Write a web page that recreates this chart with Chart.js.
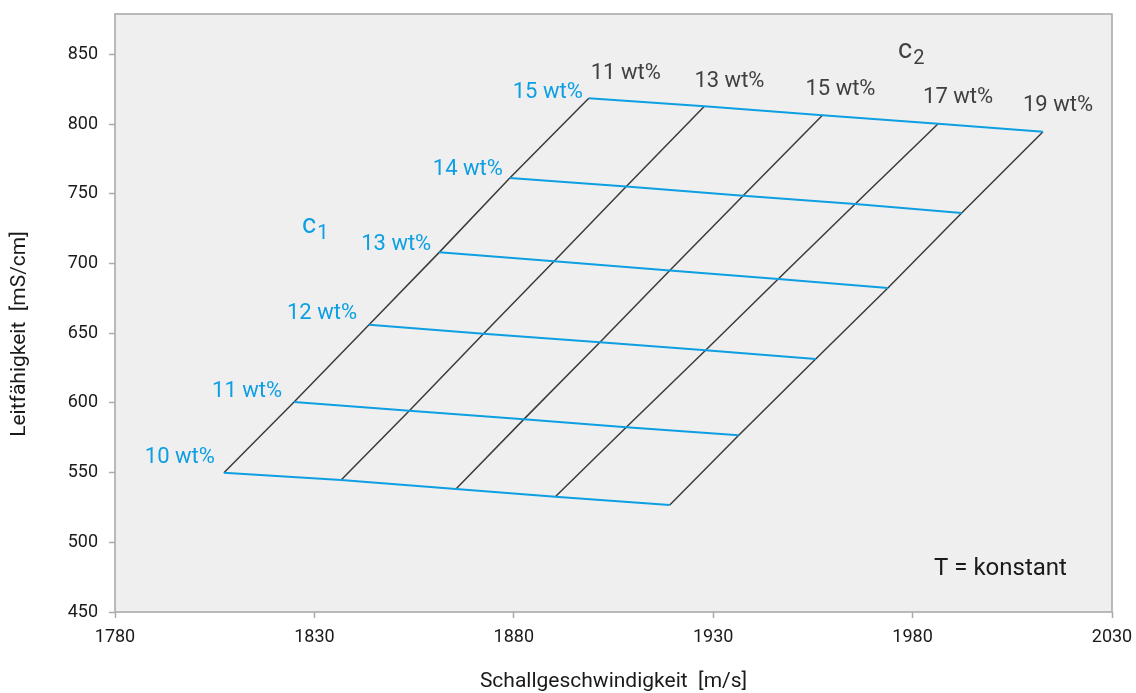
<!DOCTYPE html>
<html>
<head>
<meta charset="utf-8">
<script src="https://cdn.jsdelivr.net/npm/chart.js@4.4.1/dist/chart.umd.min.js"></script>
<style>
  html, body { margin: 0; padding: 0; background: #ffffff; }
  canvas { display: block; }
</style>
</head>
<body>
<canvas id="grid" width="1136" height="693"></canvas>
<script>
// Concentration levels of the two components (wt%)
const c1Levels = [10, 11, 12, 13, 14, 15];
const c2Levels = [11, 13, 15, 17, 19];

// Sound speed [m/s] for each c1 level, one entry per c2 level
const speedC1_10 = [1807.3, 1836.7, 1865.5, 1890.4, 1919.1];
const speedC1_11 = [1824.9, 1853.8, 1882.5, 1908.2, 1936.4];
const speedC1_12 = [1843.7, 1872.4, 1901.6, 1928.1, 1955.7];
const speedC1_13 = [1861.3, 1890.1, 1919.1, 1946.3, 1973.8];
const speedC1_14 = [1879.0, 1908.2, 1937.5, 1965.6, 1992.3];
const speedC1_15 = [1898.8, 1927.8, 1957.4, 1986.4, 2012.7];

// Conductivity [mS/cm] for each c1 level, one entry per c2 level
const condC1_10 = [549.9, 544.7, 538.2, 532.7, 526.8];
const condC1_11 = [600.6, 594.4, 588.2, 582.6, 576.8];
const condC1_12 = [656.1, 649.6, 643.5, 637.8, 631.5];
const condC1_13 = [708.0, 701.6, 695.0, 688.9, 682.4];
const condC1_14 = [761.3, 755.2, 748.6, 742.7, 736.2];
const condC1_15 = [818.5, 812.8, 806.3, 800.3, 794.5];

// Axis ticks
const speedTicks = [1780, 1830, 1880, 1930, 1980, 2030];
const condTicks = [450, 500, 550, 600, 650, 700, 750, 800, 850];

const speedRows = [speedC1_10, speedC1_11, speedC1_12, speedC1_13, speedC1_14, speedC1_15];
const condRows = [condC1_10, condC1_11, condC1_12, condC1_13, condC1_14, condC1_15];

const BLUE = '#0d9fe2';
const DARK = '#3b3b3b';
const TEXT_DARK = '#404040';
const AXIS_GRAY = '#ababab';
const FONT = 'Roboto, "Liberation Sans", sans-serif';

// Lines of constant c1 (blue) and constant c2 (dark)
const c1Sets = c1Levels.map((lvl, i) => ({
  label: 'c1 = ' + lvl + ' wt%',
  data: speedRows[i].map((x, j) => ({ x: x, y: condRows[i][j] })),
  borderColor: BLUE,
  borderWidth: 2,
  showLine: true,
  pointRadius: 0,
  pointHoverRadius: 0,
  order: 0
}));
const c2Sets = c2Levels.map((lvl, j) => ({
  label: 'c2 = ' + lvl + ' wt%',
  data: speedRows.map((row, i) => ({ x: row[j], y: condRows[i][j] })),
  borderColor: DARK,
  borderWidth: 1.5,
  showLine: true,
  pointRadius: 0,
  pointHoverRadius: 0,
  order: 1
}));

// Label offsets (px) relative to the line ends they annotate
const c1LabelShift = [[-9, -15.5], [-12, -10.5], [-12, -11.5], [-8, -7.5], [-7, -8.5], [-6, -5.5]];
const c2LabelShift = [[37, -24.5], [25, -24.5], [18, -25.5], [20, -26.5], [15, -26.5]];

// Keep the plot area fixed: no extra room reserved for edge tick labels
const noEdgePadding = (s) => {
  s.paddingTop = 0; s.paddingBottom = 0; s.paddingLeft = 0; s.paddingRight = 0;
};

const decorations = {
  id: 'decorations',
  beforeDraw(chart) {
    const { ctx, chartArea: a } = chart;
    ctx.save();
    ctx.fillStyle = '#efefef';
    ctx.fillRect(a.left, a.top, a.right - a.left, a.bottom - a.top);
    ctx.strokeStyle = AXIS_GRAY;
    ctx.lineWidth = 1.6;
    ctx.strokeRect(a.left, a.top, a.right - a.left, a.bottom - a.top);
    ctx.restore();
  },
  afterDatasetsDraw(chart) {
    const { ctx, scales } = chart;
    const xs = scales.x, ys = scales.y;
    ctx.save();
    ctx.textBaseline = 'middle';

    // c1 level labels at the left end of each blue line
    ctx.font = '22px ' + FONT;
    ctx.fillStyle = BLUE;
    ctx.textAlign = 'right';
    c1Levels.forEach((lvl, i) => {
      const px = xs.getPixelForValue(speedRows[i][0]);
      const py = ys.getPixelForValue(condRows[i][0]);
      ctx.fillText(lvl + ' wt%', px + c1LabelShift[i][0], py + c1LabelShift[i][1]);
    });

    // c2 level labels above the top end of each dark line
    ctx.fillStyle = TEXT_DARK;
    ctx.textAlign = 'center';
    const top = speedRows.length - 1;
    c2Levels.forEach((lvl, j) => {
      const px = xs.getPixelForValue(speedRows[top][j]);
      const py = ys.getPixelForValue(condRows[top][j]);
      ctx.fillText(lvl + ' wt%', px + c2LabelShift[j][0], py + c2LabelShift[j][1]);
    });

    // Series names with subscripts
    ctx.textAlign = 'left';
    ctx.textBaseline = 'alphabetic';
    const drawSub = (x, y, sub, color) => {
      ctx.fillStyle = color;
      ctx.font = '27px ' + FONT;
      ctx.fillText('c', x, y);
      const w = ctx.measureText('c').width;
      ctx.font = '20px ' + FONT;
      ctx.fillText(sub, x + w + 1, y + 6);
    };
    drawSub(302, 233, '1', BLUE);
    drawSub(898, 58, '2', TEXT_DARK);

    ctx.font = '24px ' + FONT;
    ctx.fillStyle = '#1a1a1a';
    ctx.textBaseline = 'middle';
    ctx.fillText('T = konstant', 934, 568.5);

    // Axis titles
    ctx.font = '21px ' + FONT;
    ctx.fillStyle = '#1a1a1a';
    ctx.textAlign = 'center';
    ctx.fillText('Schallgeschwindigkeit  [m/s]', (chart.chartArea.left + chart.chartArea.right) / 2, 682);
    ctx.translate(20, 334);
    ctx.rotate(-Math.PI / 2);
    ctx.fillText('Leitfähigkeit  [mS/cm]', 0, 0);
    ctx.restore();
  }
};

new Chart(document.getElementById('grid'), {
  type: 'scatter',
  data: { datasets: c1Sets.concat(c2Sets) },
  options: {
    responsive: false,
    animation: false,
    events: [],
    layout: { padding: { left: 0, top: 14, right: 24, bottom: 0 } },
    plugins: {
      legend: { display: false },
      tooltip: { enabled: false },
      title: { display: false }
    },
    elements: { line: { tension: 0, fill: false } },
    scales: {
      x: {
        type: 'linear',
        min: 1780,
        max: 2030,
        afterFit(s) { s.height = 81; noEdgePadding(s); },
        afterBuildTicks(s) { s.ticks = speedTicks.map(v => ({ value: v })); },
        border: { display: false },
        grid: { drawOnChartArea: false, drawTicks: true, tickLength: 6, tickColor: AXIS_GRAY, tickWidth: 1.5 },
        ticks: {
          color: '#1a1a1a', font: { family: FONT, size: 18 }, padding: 9,
          maxRotation: 0, autoSkip: false, callback: (v) => String(v)
        }
      },
      y: {
        type: 'linear',
        min: 450,
        max: 879,
        afterFit(s) { s.width = 115; noEdgePadding(s); },
        afterBuildTicks(s) { s.ticks = condTicks.map(v => ({ value: v })); },
        border: { display: false },
        grid: { drawOnChartArea: false, drawTicks: true, tickLength: 6, tickColor: AXIS_GRAY, tickWidth: 1.5 },
        ticks: {
          color: '#1a1a1a', font: { family: FONT, size: 18 }, padding: 11,
          autoSkip: false, callback: (v) => String(v)
        }
      }
    }
  },
  plugins: [decorations]
});
</script>
</body>
</html>
